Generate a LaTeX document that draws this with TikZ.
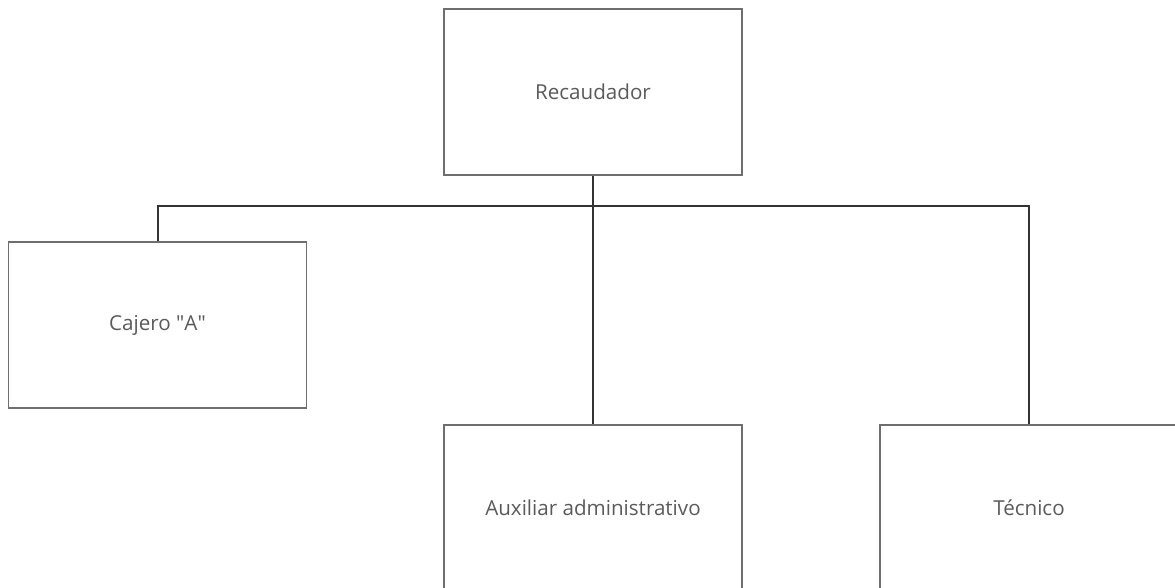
\documentclass[tikz,border=0pt]{standalone}
\usepackage{fontspec}
\setmainfont{Open Sans}
\usepackage{tikz}
\usetikzlibrary{positioning}
\definecolor{boxgray}{HTML}{6E6E6E}
\definecolor{linegray}{HTML}{333333}
\definecolor{textgray}{HTML}{5A5A5A}

\begin{document}
\begin{tikzpicture}[x=0.5pt, y=-0.5pt, node distance=1cm, on grid,
    post/.style={draw=boxgray, line width=0.9pt, minimum width=149pt,
        minimum height=83pt, inner sep=0pt, text=textgray,
        font=\fontsize{10.3}{12}\selectfont},
    link/.style={draw=linegray, line width=1pt}]
    \useasboundingbox (0,0) rectangle (1175,588);
    \clip (0,0) rectangle (1175,588);
    \node[post] (rec) at (593,92) {Recaudador};
    \node[post, below left=116.5pt and 217.75pt of rec] (caj) {Cajero \textquotedbl A\textquotedbl};
    \node[post, below=208pt of rec] (aux) {Auxiliar administrativo};
    \node[post, right=218pt of aux] (tec) {Técnico};
    \coordinate (bus) at (593,206);

    \path[link]
        (rec.south) -- (aux.north)
        (caj.north) |- (bus) -| (tec.north);
\end{tikzpicture}
\end{document}
